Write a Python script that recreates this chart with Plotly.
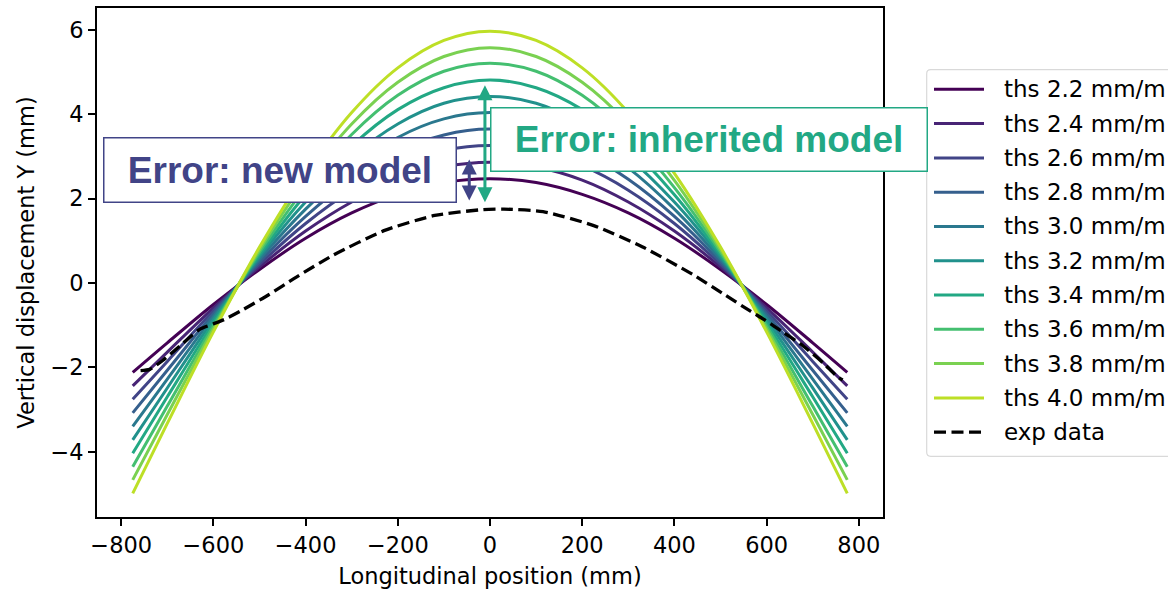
import plotly.graph_objects as go

# ---------------- data ----------------
x_pos = [-775, -700, -600, -500, -400, -300, -200, -100, 0, 100, 200, 300, 400, 500, 600, 700, 775]

ths_labels = ["ths 2.2 mm/m", "ths 2.4 mm/m", "ths 2.6 mm/m", "ths 2.8 mm/m", "ths 3.0 mm/m",
              "ths 3.2 mm/m", "ths 3.4 mm/m", "ths 3.6 mm/m", "ths 3.8 mm/m", "ths 4.0 mm/m"]

ths_22 = [-2.12, -1.42, -0.51, 0.32, 1.06, 1.66, 2.10, 2.38, 2.47, 2.38, 2.10, 1.66, 1.06, 0.32, -0.51, -1.42, -2.12]
ths_24 = [-2.44, -1.64, -0.59, 0.38, 1.23, 1.92, 2.44, 2.75, 2.86, 2.75, 2.44, 1.92, 1.23, 0.38, -0.59, -1.64, -2.44]
ths_26 = [-2.76, -1.86, -0.66, 0.44, 1.41, 2.20, 2.78, 3.14, 3.26, 3.14, 2.78, 2.20, 1.41, 0.44, -0.66, -1.86, -2.76]
ths_28 = [-3.08, -2.07, -0.73, 0.50, 1.58, 2.46, 3.11, 3.51, 3.65, 3.51, 3.11, 2.46, 1.58, 0.50, -0.73, -2.07, -3.08]
ths_30 = [-3.40, -2.28, -0.80, 0.56, 1.75, 2.73, 3.45, 3.89, 4.04, 3.89, 3.45, 2.73, 1.75, 0.56, -0.80, -2.28, -3.40]
ths_32 = [-3.72, -2.49, -0.87, 0.62, 1.92, 2.98, 3.77, 4.26, 4.42, 4.26, 3.77, 2.98, 1.92, 0.62, -0.87, -2.49, -3.72]
ths_34 = [-4.04, -2.70, -0.95, 0.67, 2.09, 3.25, 4.11, 4.63, 4.81, 4.63, 4.11, 3.25, 2.09, 0.67, -0.95, -2.70, -4.04]
ths_36 = [-4.36, -2.92, -1.02, 0.73, 2.26, 3.52, 4.45, 5.02, 5.21, 5.02, 4.45, 3.52, 2.26, 0.73, -1.02, -2.92, -4.36]
ths_38 = [-4.67, -3.12, -1.09, 0.79, 2.43, 3.77, 4.76, 5.37, 5.58, 5.37, 4.76, 3.77, 2.43, 0.79, -1.09, -3.12, -4.67]
ths_40 = [-4.99, -3.33, -1.16, 0.85, 2.60, 4.04, 5.10, 5.75, 5.97, 5.75, 5.10, 4.04, 2.60, 0.85, -1.16, -3.33, -4.99]

exp_x = [-758, -738, -710, -665, -630, -600, -575, -540, -480, -420, -340, -230, -120, -15, 30, 115,
         225, 330, 440, 505, 565, 595, 636, 680, 723, 752, 765]
exp_y = [-2.08, -2.05, -1.84, -1.42, -1.10, -0.97, -0.86, -0.66, -0.28, 0.14, 0.66, 1.24, 1.60, 1.74, 1.75, 1.69,
         1.36, 0.86, 0.20, -0.25, -0.67, -0.87, -1.17, -1.50, -1.90, -2.21, -2.30]
exp_label = "exp data"

x_ticks = [-800, -600, -400, -200, 0, 200, 400, 600, 800]
x_ticktext = ["\u2212800", "\u2212600", "\u2212400", "\u2212200", "0", "200", "400", "600", "800"]
y_ticks = [-4, -2, 0, 2, 4, 6]
y_ticktext = ["\u22124", "\u22122", "0", "2", "4", "6"]

# arrows (data coords): x, y_low, y_high
new_arrow = (-45, 1.92, 2.93)
inh_arrow = (-11, 1.88, 4.69)

# ---------------- style ----------------
colors = ["#440154", "#482475", "#414487", "#355f8d", "#2a788e",
          "#21918c", "#22a884", "#44bf70", "#7ad151", "#bddf26"]
series = [ths_22, ths_24, ths_26, ths_28, ths_30, ths_32, ths_34, ths_36, ths_38, ths_40]

W, H = 1168, 590
L, R, T, B = 97, 883, 7.5, 517.5
FONT = "DejaVu Sans"
BOLD = "Liberation Sans, Arial, sans-serif"


def px(xp):
    return (xp - L) / (R - L)


def py(yp):
    return (B - yp) / (B - T)


fig = go.Figure()
for ys, c, lab in zip(series, colors, ths_labels):
    fig.add_trace(go.Scatter(x=x_pos, y=ys, mode="lines", name=lab,
                             line=dict(color=c, width=3, shape="spline", smoothing=1.0),
                             showlegend=False))
fig.add_trace(go.Scatter(x=exp_x, y=exp_y, mode="lines", name=exp_label,
                         line=dict(color="black", width=3.3, dash="12px,5.5px", shape="spline", smoothing=0.6),
                         showlegend=False))

shapes = []
annotations = []

# manual legend (extends beyond the window like the reference)
lx0, ly0, lx1, ly1, r = 926.7, 69.3, 1190, 456.7, 4
path = (f"M {px(lx0 + r)},{py(ly0)} L {px(lx1 - r)},{py(ly0)} Q {px(lx1)},{py(ly0)} {px(lx1)},{py(ly0 + r)} "
        f"L {px(lx1)},{py(ly1 - r)} Q {px(lx1)},{py(ly1)} {px(lx1 - r)},{py(ly1)} "
        f"L {px(lx0 + r)},{py(ly1)} Q {px(lx0)},{py(ly1)} {px(lx0)},{py(ly1 - r)} "
        f"L {px(lx0)},{py(ly0 + r)} Q {px(lx0)},{py(ly0)} {px(lx0 + r)},{py(ly0)} Z")
shapes.append(dict(type="path", xref="paper", yref="paper", path=path,
                   line=dict(color="#d9d9d9", width=1.2), fillcolor="rgba(255,255,255,0.8)", layer="above"))

leg_labels = ths_labels + [exp_label]
leg_colors = colors + ["black"]
for i, (lab, c) in enumerate(zip(leg_labels, leg_colors)):
    yy = 89 + 34.35 * i
    shapes.append(dict(type="line", xref="paper", yref="paper", x0=px(934), x1=px(984), y0=py(yy), y1=py(yy),
                       line=dict(color=c, width=3 if i < 10 else 3.3, dash="solid" if i < 10 else "12px,5.5px"),
                       layer="above"))
    annotations.append(dict(xref="paper", yref="paper", x=px(1001.5), y=py(yy), text=lab, showarrow=False,
                            xanchor="left", yanchor="middle", font=dict(family=FONT, size=23, color="black")))

# double-headed arrows
for (ax_x, y_lo, y_hi), c in [(new_arrow, "#414487"), (inh_arrow, "#22a884")]:
    annotations.append(dict(x=ax_x, y=y_hi, ax=ax_x, ay=y_lo, xref="x", yref="y", axref="x", ayref="y",
                            text="", showarrow=True, arrowhead=2, startarrowhead=2, arrowside="end+start",
                            arrowsize=1.0, startarrowsize=1.0, arrowwidth=3, arrowcolor=c))

# text boxes
annotations.append(dict(xref="paper", yref="paper", x=px(279.5), y=py(169.5), xanchor="center", yanchor="middle",
                        text="<b>Error: new model</b>", showarrow=False,
                        font=dict(family=BOLD, size=37, color="#414487"),
                        bgcolor="white", bordercolor="#414487", borderwidth=1.5, borderpad=0,
                        width=351, height=63))
annotations.append(dict(xref="paper", yref="paper", x=px(708.5), y=py(139), xanchor="center", yanchor="middle",
                        text="<b>Error: inherited model</b>", showarrow=False,
                        font=dict(family=BOLD, size=37, color="#22a884"),
                        bgcolor="white", bordercolor="#22a884", borderwidth=1.5, borderpad=0,
                        width=435, height=62))

axis_common = dict(showline=True, linecolor="black", linewidth=1.6, mirror=True, ticks="outside",
                   ticklen=7, tickwidth=1.6, tickcolor="black", showgrid=False, zeroline=False,
                   tickfont=dict(family=FONT, size=22.5, color="black"))

fig.update_layout(
    width=W, height=H,
    margin=dict(l=L, r=W - R, t=T, b=H - B, autoexpand=False),
    paper_bgcolor="white", plot_bgcolor="white",
    showlegend=False,
    xaxis=dict(range=[-852.5, 852.5], tickvals=x_ticks, ticktext=x_ticktext,
               title=dict(text="Longitudinal position (mm)", font=dict(family=FONT, size=22.5, color="black"),
                          standoff=11),
               **axis_common),
    yaxis=dict(range=[-5.55, 6.52], tickvals=y_ticks, ticktext=y_ticktext,
               title=dict(text="Vertical displacement Y (mm)", font=dict(family=FONT, size=22.5, color="black"),
                          standoff=10),
               **axis_common),
    shapes=shapes,
    annotations=annotations,
)

fig.write_html("out.html")
